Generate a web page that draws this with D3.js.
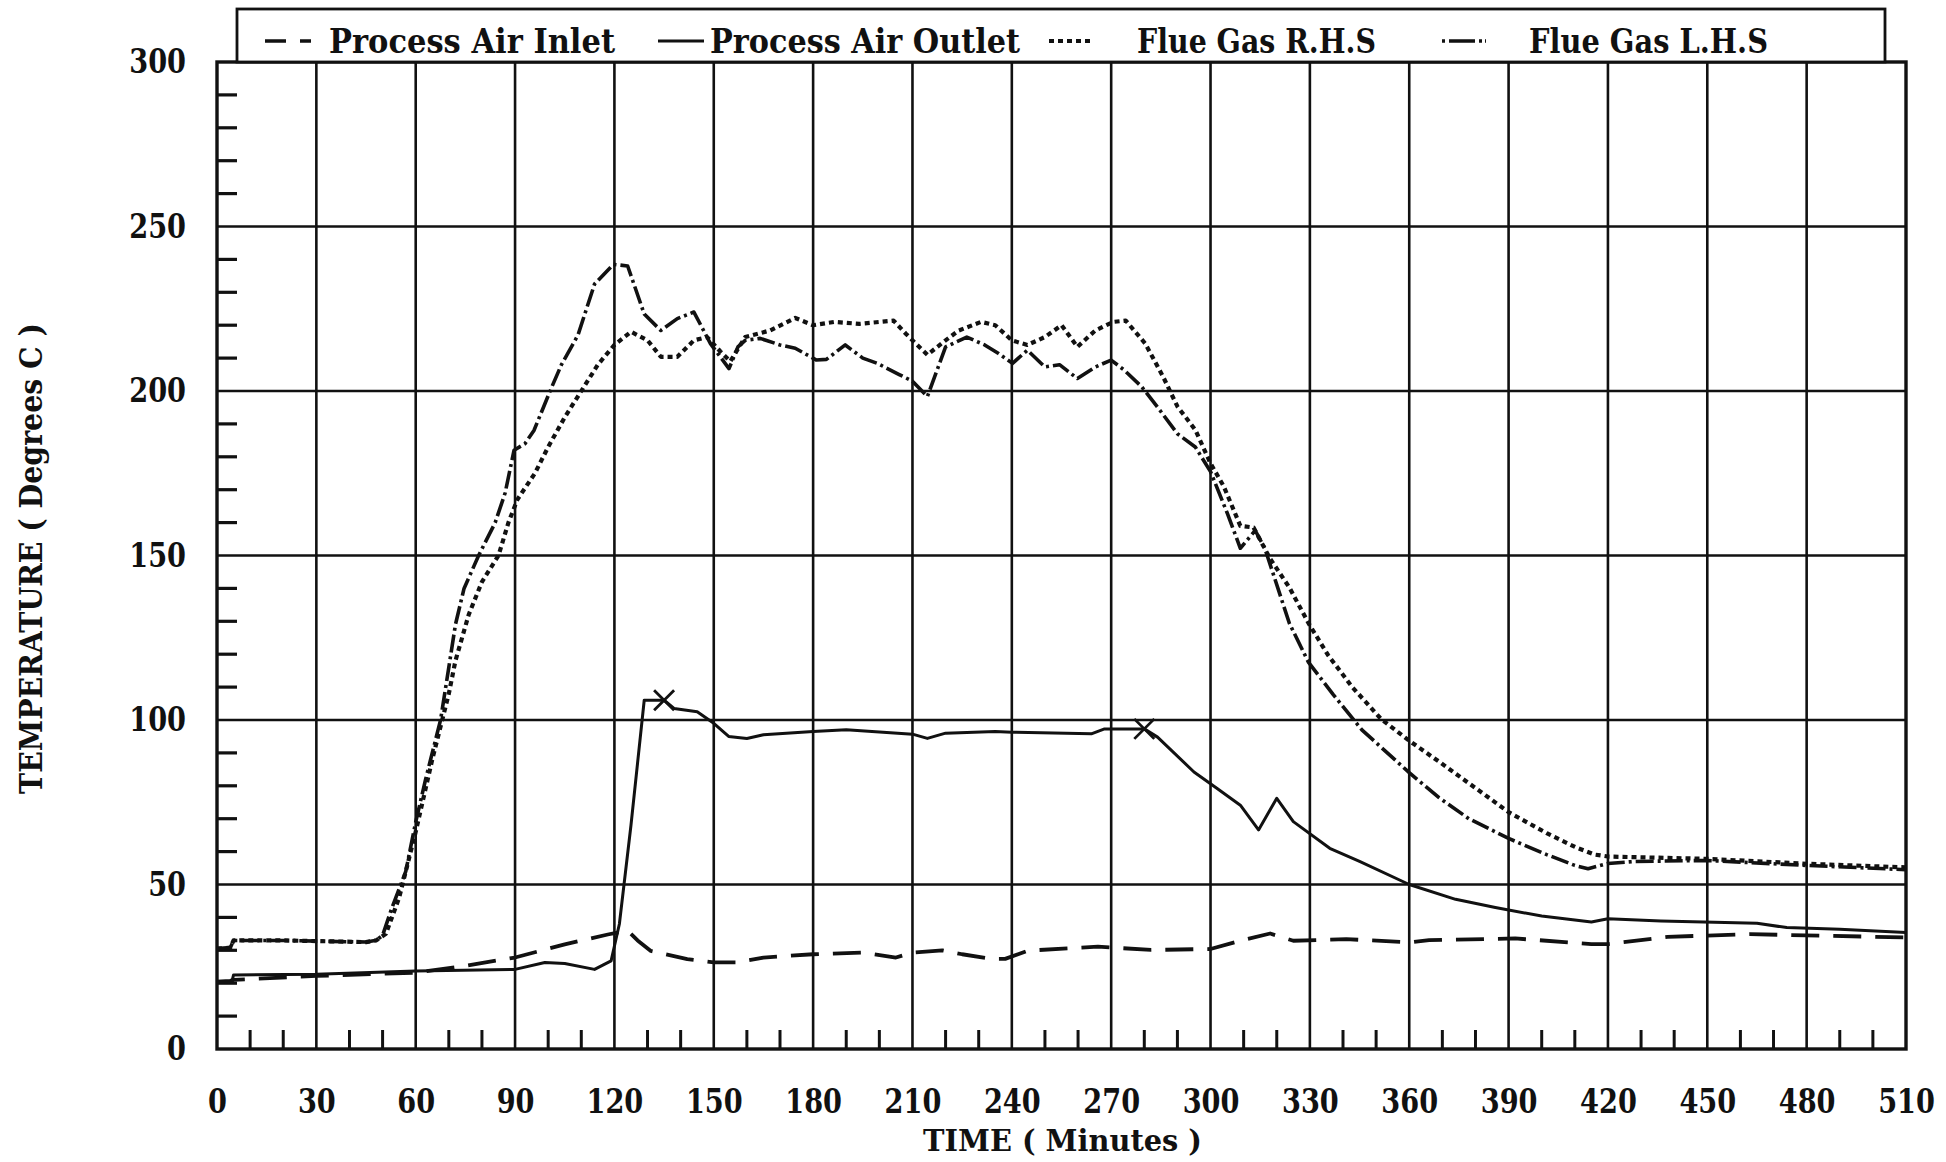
<!DOCTYPE html>
<html><head><meta charset="utf-8">
<script src="https://cdn.jsdelivr.net/npm/d3@7"></script>
<style>
body{margin:0;background:#fff;}
svg{display:block;background:#fff;}
text{font-family:"DejaVu Serif",serif;font-weight:bold;fill:#111;}
</style></head><body>
<svg id="c" width="1946" height="1162"></svg>
<script>
// ---------- data ----------
const xTicks = [0,30,60,90,120,150,180,210,240,270,300,330,360,390,420,450,480,510];
const yTicks = [0,50,100,150,200,250,300];
const xMinor = d3.range(10,510,10).filter(d => d % 30 !== 0);
const yMinor = d3.range(10,300,10).filter(d => d % 50 !== 0);
const seriesNames = ["Process Air Inlet","Process Air Outlet","Flue Gas R.H.S","Flue Gas L.H.S"];
const xTitle = "TIME ( Minutes )";
const yTitle = "TEMPERATURE ( Degrees C )";

const inlet = [[0,20.5],[4,20.7],[5,21],[30,22.2],[60,23.2],[75,25.3],[90,27.8],[105,31.8],[118,34.8],[124,36],[127,33],[131,29.8],[142,27.3],[150,26.3],[157,26.3],[165,27.8],[180,28.8],[195,29.3],[205,27.8],[210,29.3],[219,30],[225,28.8],[234,27.4],[238,27.4],[245,29.9],[266,31.1],[282,30.1],[300,30.4],[309,32.9],[318,35.1],[325,32.9],[341,33.4],[360,32.4],[366,33.1],[392,33.6],[415,31.9],[420,31.9],[438,34.1],[463,34.9],[510,33.9]];

const outlet = [[0,20.3],[4.5,20.5],[5,22.5],[30,22.7],[60,23.7],[90,24.2],[99,26.3],[105,26],[114,24.2],[119,26.8],[121.5,38],[125,68],[129,106],[132,106],[135,106],[138,103.5],[145,102.5],[150,99],[154.5,95],[160,94.4],[165,95.5],[180,96.5],[190,97],[210,95.7],[214.5,94.4],[220,96],[235,96.5],[240,96.3],[264,95.8],[268,97.3],[276,97.3],[280,97.3],[284,94.8],[295,84.2],[302,79.2],[309,74.1],[314.5,66.6],[320,76.2],[325,69.1],[336,61],[345,57],[360,50],[374,45.5],[386,43],[400,40.4],[415,38.6],[420,39.6],[436,38.9],[465,38.2],[474,36.9],[490,36.4],[510,35.4]];

const outletMarks = [[135,106],[280,97.3]];

const flueRHS = [[0,30.5],[4,30.8],[5,33],[20,33],[45,32.5],[48,33],[51,35],[55,46],[60,66],[65,88],[70,108],[72,118],[76,132],[80,142],[85,150],[88,160],[90.7,167],[96,175],[100,183],[105,192],[110,200],[115,208],[120,214],[125,218],[130,215.4],[134,210.4],[139,210.4],[144,215.4],[148,216.4],[152,212],[155,209],[159.5,216.4],[167,218.4],[174.6,222.2],[180,220],[186.5,221],[194,220.4],[204.3,221.4],[208,217.4],[214.5,211],[220,215.4],[224,218.4],[230.7,221],[235,220],[240,215.4],[244.7,214],[250,216.4],[255,220],[259.8,213.4],[265.2,218.4],[270.6,221],[274.4,221.4],[280.3,214.4],[285.7,204.3],[290,195.3],[295.4,188.2],[300,178],[304,171],[309,159],[313,158.5],[318,149],[323.8,140.3],[329.6,129.4],[335.5,119.7],[342.8,110],[351.6,100.2],[360,93.7],[369.2,87.2],[381,78.6],[390,72],[401.5,65.6],[410.3,61.3],[416,59.1],[420,58.5],[450,57.8],[480,56.3],[510,55.2]];

const flueLHS = [[0,30.5],[4,30.8],[5,33],[20,33],[45,32.5],[48,33],[50,34.5],[52.5,42],[57,54],[60,69],[63,82],[67.5,100],[70,116],[72,129],[74.6,140],[79,150],[84,160],[87,169],[89.7,182],[93,184],[95.7,188],[101,201],[104,208],[109,217],[114,232.5],[119.7,238.5],[124,238],[129,223.4],[134,218.4],[139,222],[144,224],[149,214.4],[154.6,206.8],[157.3,213.4],[159.5,215.4],[164,216],[170,214],[174.6,213],[181,209.4],[184,209.6],[189.7,214],[195,210],[199.4,208.4],[206,205],[210,203],[214.5,198.3],[220,213.4],[226.4,216.4],[231.8,214],[236,211.4],[240.2,208.4],[244.7,212.4],[250,207.3],[254.4,208],[259.8,203.8],[265.2,207.3],[270,209.4],[274,206.3],[279.2,201.3],[284.6,194.3],[290,187],[295.4,183],[300,175.5],[305,163],[309,152.2],[313.5,157.6],[316.4,152.2],[323.8,129.4],[329.6,117.5],[337,107.8],[345.7,97],[360,84],[369,76.4],[378,70],[390,64],[401.5,59.1],[410,55.8],[414,54.8],[420,56.4],[428,57],[450,57.3],[480,55.8],[510,54.5]];

// ---------- layout ----------
const X0 = 217, X1 = 1906, Y0 = 1049, Y1 = 62;
const svg = d3.select("#c");
const x = d3.scaleLinear().domain([0,510]).range([X0,X1]);
const y = d3.scaleLinear().domain([0,300]).range([Y0,Y1]);
const ink = "#111";
const squeeze = 0.8;

// grid
svg.append("g").selectAll("line").data(xTicks.filter(d => d > 0 && d < 510)).join("line")
  .attr("x1", d => x(d)).attr("x2", d => x(d)).attr("y1", Y1).attr("y2", Y0)
  .attr("stroke", ink).attr("stroke-width", 2.6);
svg.append("g").selectAll("line").data(yTicks.filter(d => d > 0 && d < 300)).join("line")
  .attr("y1", d => y(d)).attr("y2", d => y(d)).attr("x1", X0).attr("x2", X1)
  .attr("stroke", ink).attr("stroke-width", 2.6);

// minor ticks
svg.append("g").selectAll("line").data(yMinor).join("line")
  .attr("x1", X0).attr("x2", X0 + 20).attr("y1", d => y(d)).attr("y2", d => y(d))
  .attr("stroke", ink).attr("stroke-width", 3.2);
svg.append("g").selectAll("line").data(xMinor).join("line")
  .attr("x1", d => x(d)).attr("x2", d => x(d)).attr("y1", Y0).attr("y2", Y0 - 19)
  .attr("stroke", ink).attr("stroke-width", 3);

// frame
svg.append("rect").attr("x", X0).attr("y", Y1).attr("width", X1 - X0).attr("height", Y0 - Y1)
  .attr("fill", "none").attr("stroke", ink).attr("stroke-width", 3.4);

// axes (labels only)
const fs = 34;
const gx = svg.append("g").attr("transform", `translate(0,${Y0})`)
  .call(d3.axisBottom(x).tickValues(xTicks).tickSize(0).tickPadding(40).tickFormat(d3.format("d")));
const gy = svg.append("g").attr("transform", `translate(${X0},0)`)
  .call(d3.axisLeft(y).tickValues(yTicks).tickSize(0).tickPadding(31).tickFormat(d3.format("d")));
[gx, gy].forEach(g => {
  g.select(".domain").remove();
  g.selectAll("text").attr("font-size", fs).attr("fill", ink)
    .style("font-family", '"DejaVu Serif",serif').style("font-weight", "bold");
});
// horizontally condensed digits (scale keeps real text)
gx.selectAll("text").attr("transform", `scale(${squeeze},1)`);
gy.selectAll("text").attr("x", -31 / squeeze).attr("transform", `scale(${squeeze},1)`);

// lines
const line = d3.line().x(d => x(d[0])).y(d => y(d[1]));
const styles = [
  {data: inlet,   dash: "28,14",      w: 3.8},
  {data: outlet,  dash: null,         w: 3.0},
  {data: flueRHS, dash: "5,4",        w: 4.2},
  {data: flueLHS, dash: "18,4,3,4",   w: 3.6}
];
const gl = svg.append("g").attr("fill", "none").attr("stroke", ink);
styles.forEach(s => {
  gl.append("path").attr("d", line(s.data)).attr("stroke-width", s.w)
    .attr("stroke-dasharray", s.dash).attr("stroke-linejoin", "round");
});

// X markers on outlet
svg.append("g").selectAll("path").data(outletMarks).join("path")
  .attr("d", d => { const cx = x(d[0]), cy = y(d[1]), r = 10;
    return `M${cx-r},${cy-r}L${cx+r},${cy+r}M${cx-r},${cy+r}L${cx+r},${cy-r}`; })
  .attr("stroke", ink).attr("stroke-width", 2.8).attr("fill", "none");

// legend box
svg.append("rect").attr("x", 237).attr("y", 9).attr("width", 1885 - 237).attr("height", Y1 - 9)
  .attr("fill", "#fff").attr("stroke", ink).attr("stroke-width", 2.8);
const legendItems = [
  {sx1: 265, sx2: 311, tx: 329,  tw: 286, dash: "21,14", w: 3.6},
  {sx1: 658, sx2: 704, tx: 710,  tw: 310, dash: null,    w: 3.0},
  {sx1: 1049, sx2: 1093, tx: 1137, tw: 239, dash: "5,4", w: 4.2},
  {sx1: 1442, sx2: 1486, tx: 1529, tw: 239, dash: "3,4,26,4,3", w: 3.4}
];
const gleg = svg.append("g");
legendItems.forEach((it, i) => {
  gleg.append("line").attr("x1", it.sx1).attr("x2", it.sx2).attr("y1", 41).attr("y2", 41)
    .attr("stroke", ink).attr("stroke-width", it.w).attr("stroke-dasharray", it.dash);
  gleg.append("text").attr("x", it.tx).attr("y", 53).attr("font-size", 34)
    .attr("textLength", it.tw).attr("lengthAdjust", "spacingAndGlyphs").text(seriesNames[i]);
});

// axis titles
svg.append("text").attr("x", (X0 + X1) / 2 + 1).attr("y", 1151).attr("text-anchor", "middle")
  .attr("font-size", 29).attr("textLength", 279).attr("lengthAdjust", "spacingAndGlyphs").text(xTitle);
svg.append("text").attr("transform", `translate(42,${(Y0 + Y1) / 2 + 3}) rotate(-90)`)
  .attr("text-anchor", "middle").attr("font-size", 32)
  .attr("textLength", 471).attr("lengthAdjust", "spacingAndGlyphs").text(yTitle);
</script>
</body></html>
